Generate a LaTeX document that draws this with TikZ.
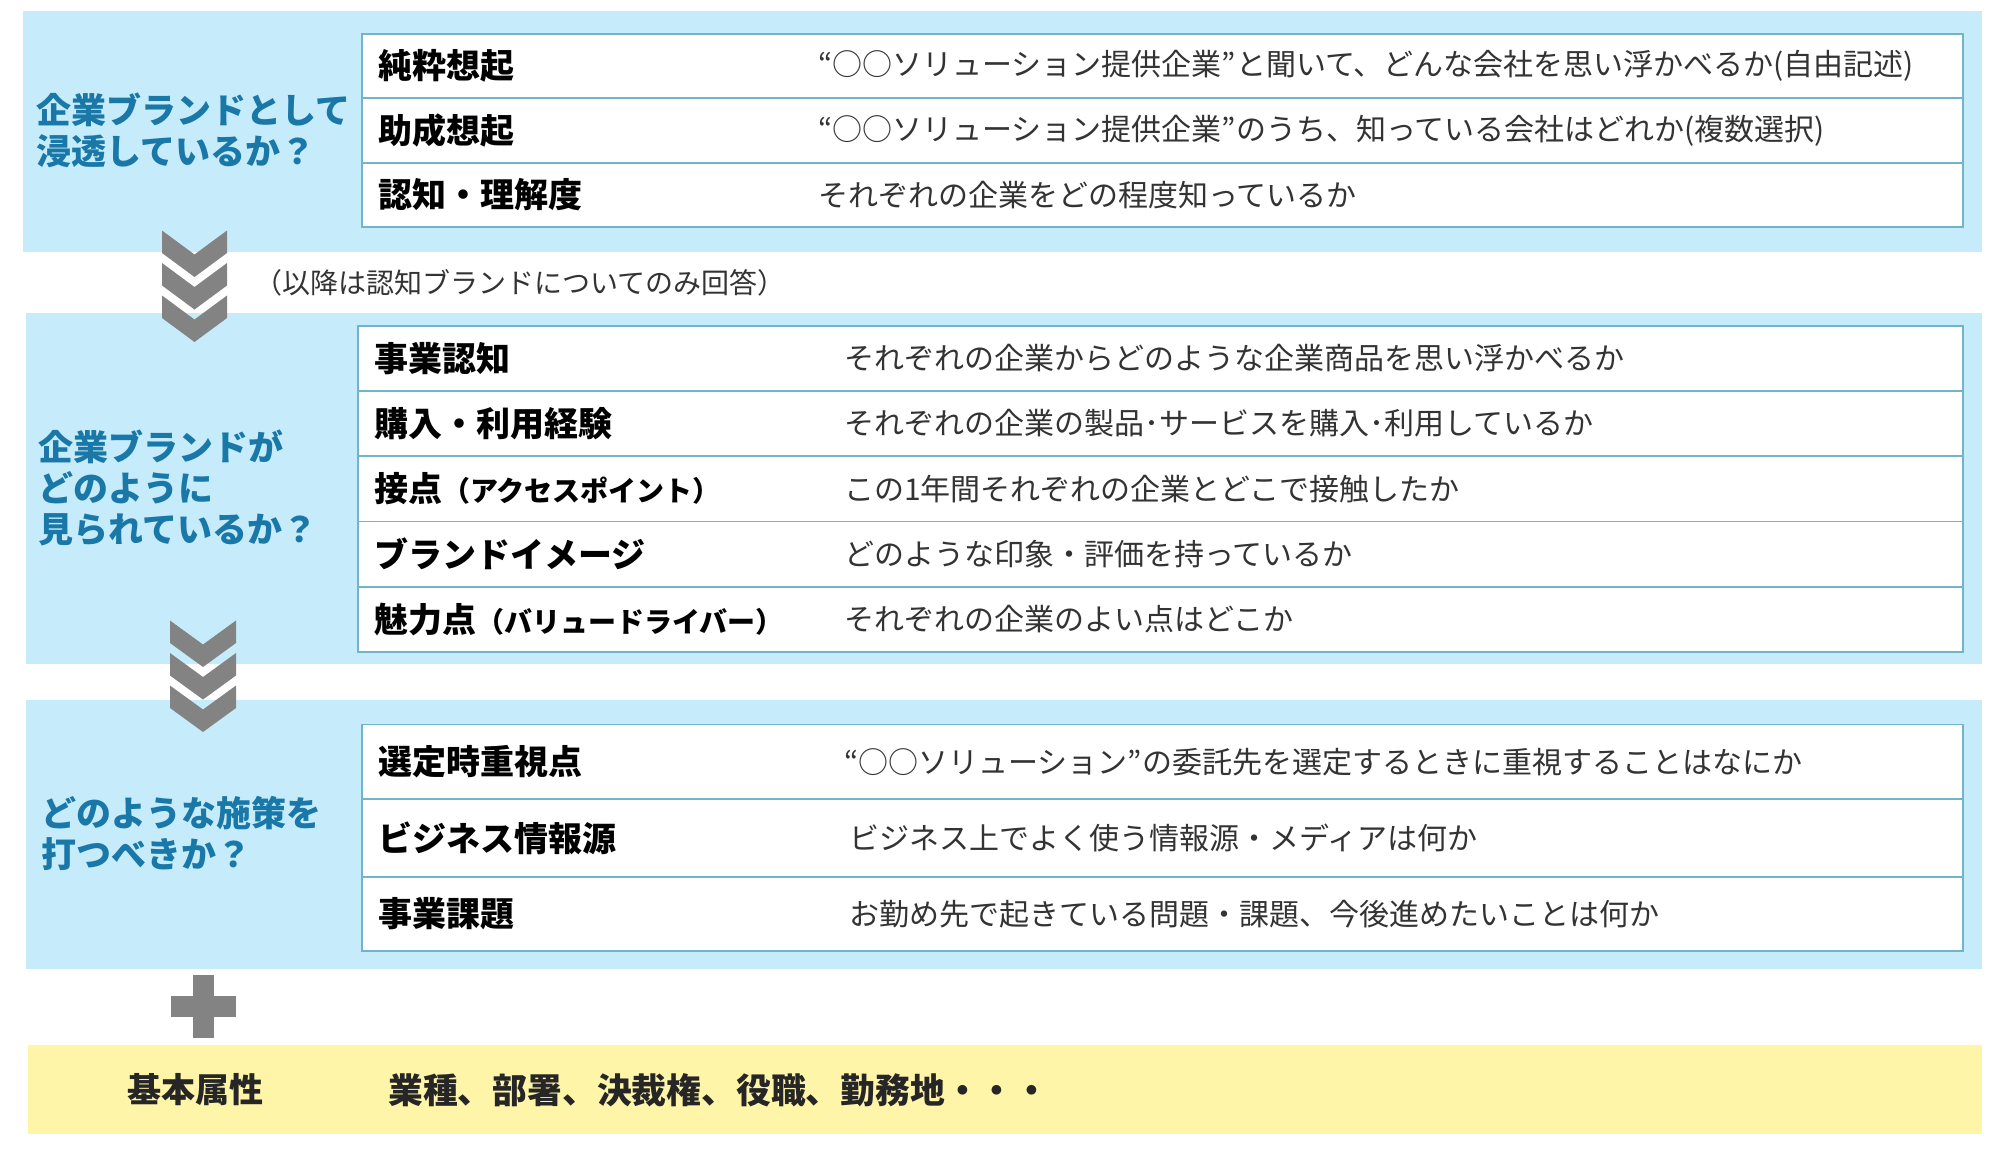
\documentclass[tikz,border=0pt]{standalone}
\usepackage{fontspec}
\setmainfont{Noto Sans CJK JP}
\definecolor{bandblue}{HTML}{C6ECFB}
\definecolor{rulecol}{HTML}{72B4CA}
\definecolor{qblue}{HTML}{1A78A8}
\definecolor{arrgray}{HTML}{838383}
\definecolor{attryellow}{HTML}{FFF5A9}

\begin{document}
\begin{tikzpicture}[x=1pt,y=-1pt]
\tikzset{
    band/.style={fill=bandblue},
    cell/.style={fill=white, draw=rulecol, line width=1.5pt},
    rowline/.style={draw=rulecol, line width=1.5pt},
    question/.style={anchor=west, align=left, inner sep=0pt, text=qblue,
        font=\fontsize{35}{41}\selectfont\bfseries},
    item/.style={anchor=west, inner sep=0pt, font=\fontsize{34}{40}\selectfont\bfseries},
    detail/.style={anchor=west, inner sep=0pt, text=black!80,
        font=\fontsize{30}{36}\selectfont},
    chev/.style={fill=arrgray}
}
\useasboundingbox (0,0) rectangle (2000,1151);

% bands
\fill[band] (23,11) rectangle (1982,252);
\fill[band] (26,313) rectangle (1982,664);
\fill[band] (26,700) rectangle (1982,969);
\fill[attryellow] (28,1045) rectangle (1982,1134);

% table 1
\draw[cell] (362,34) rectangle (1963,227);
\draw[rowline] (362,98) -- (1963,98);
\draw[rowline] (362,163) -- (1963,163);

% table 2
\draw[cell] (358,326) rectangle (1963,652);
\draw[rowline] (358,391) -- (1963,391);
\draw[rowline] (358,456) -- (1963,456);
\draw[rowline] (358,521.5) -- (1963,521.5);
\draw[rowline] (358,587) -- (1963,587);

% table 3
\draw[cell] (362,724.5) rectangle (1963,951);
\draw[rowline] (362,799) -- (1963,799);
\draw[rowline] (362,877) -- (1963,877);

% questions
\node[question] (q1) at (36,130.5) {企業ブランドとして\\浸透しているか？};
\node[question] (q2) at (38,488) {企業ブランドが\\どのように\\見られているか？};
\node[question] (q3) at (41,833.5) {どのような施策を\\打つべきか？};

% rows of table 1
\node[item] (pure) at (378,66) {純粋想起};
\node[item] (aided) at (378,130.5) {助成想起};
\node[item] (aware) at (378,195) {認知・理解度};
\node[detail] (pured) at (818,66) {“○○ソリューション提供企業”と聞いて、どんな会社を思い浮かべるか(自由記述)};
\node[detail] (aidedd) at (818,130.5) {“○○ソリューション提供企業”のうち、知っている会社はどれか(複数選択)};
\node[detail] (awared) at (818,195) {それぞれの企業をどの程度知っているか};

\node[anchor=west, inner sep=0pt, text=black!80, font=\fontsize{28}{32}\selectfont] (note) at (254,283) {（以降は認知ブランドについてのみ回答）};

% rows of table 2
\node[item] (biz) at (374,358.5) {事業認知};
\node[item] (use) at (374,423.5) {購入・利用経験};
\node[item] (touch) at (374,488.75) {接点{\fontsize{28}{32}\selectfont （アクセスポイント）}};
\node[item] (image) at (374,554.25) {ブランドイメージ};
\node[item] (value) at (374,619.5) {魅力点{\fontsize{28}{32}\selectfont （バリュードライバー）}};
\node[detail] (bizd) at (844,358.5) {それぞれの企業からどのような企業商品を思い浮かべるか};
\node[detail] (used) at (844,423.5) {それぞれの企業の製品･サービスを購入･利用しているか};
\node[detail] (touchd) at (844,488.75) {この1年間それぞれの企業とどこで接触したか};
\node[detail] (imaged) at (844,554.25) {どのような印象・評価を持っているか};
\node[detail] (valued) at (844,619.5) {それぞれの企業のよい点はどこか};

% rows of table 3
\node[item] (select) at (378,761.75) {選定時重視点};
\node[item] (source) at (378,838) {ビジネス情報源};
\node[item] (issue) at (378,914) {事業課題};
\node[detail] (selectd) at (844,761.75) {“○○ソリューション”の委託先を選定するときに重視することはなにか};
\node[detail] (sourced) at (849,838) {ビジネス上でよく使う情報源・メディアは何か};
\node[detail] (issued) at (849,914) {お勤め先で起きている問題・課題、今後進めたいことは何か};

% chevrons
\foreach \k in {0,1,2} {
  \fill[chev] (162,230.5+32.5*\k) -- ++(32.5,24) -- ++(32.5,-24) -- ++(0,22.5)
      -- ++(-32.5,24) -- ++(-32.5,-24) -- cycle;
  \fill[chev] (170,620.5+32.5*\k) -- ++(33,24) -- ++(33,-24) -- ++(0,22.5)
      -- ++(-33,24) -- ++(-33,-24) -- cycle;
}

% plus
\fill[arrgray] (192.7,975) rectangle (214,1038);
\fill[arrgray] (170.7,996) rectangle (235.7,1016.7);

% basic attributes
\node[item, anchor=center, text=black!85] (attr) at (195,1090) {基本属性};
\node[item, text=black!85, font=\fontsize{34.8}{40}\selectfont\bfseries] (attrd) at (388,1090) {業種、部署、決裁権、役職、勤務地・・・};

\end{tikzpicture}
\end{document}
